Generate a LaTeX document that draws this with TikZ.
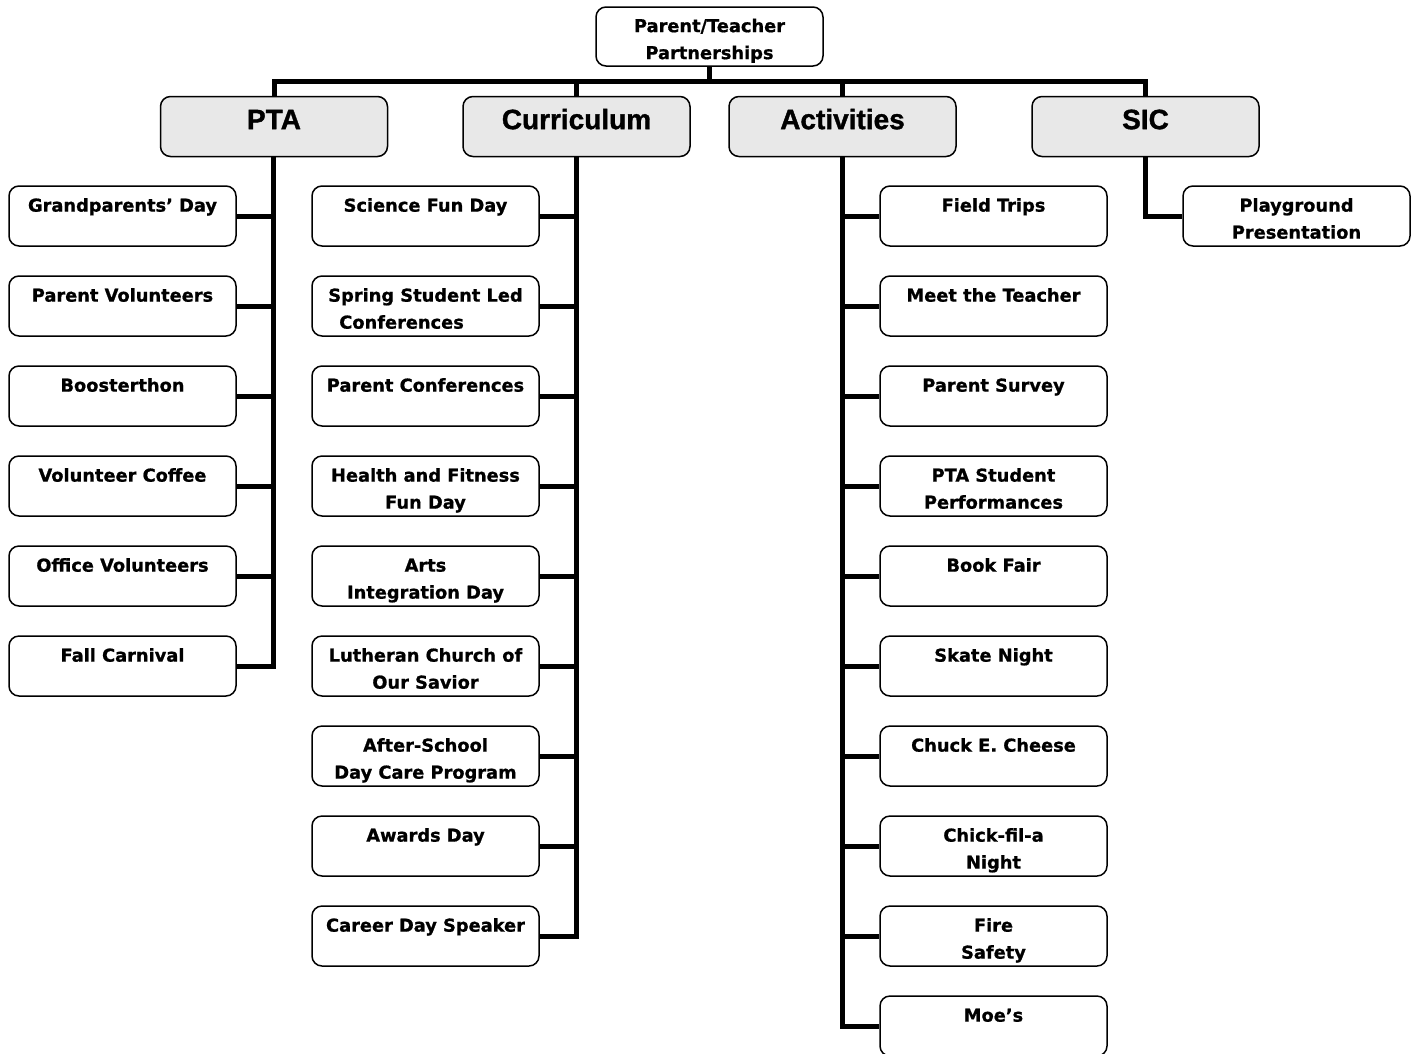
\documentclass[tikz,border=0pt]{standalone}
\usepackage{fontspec}
\newfontfamily\itemfont{DejaVu Sans}[BoldFont={DejaVu Sans Bold},BoldFeatures={FakeBold=0.9}]
\newfontfamily\headfont{Liberation Sans}[BoldFeatures={FakeBold=1.2}]
\begin{document}
\begin{tikzpicture}[x=1pt,y=-1pt,
  box/.style={draw=black,line width=1.5pt,rounded corners=10pt,fill=white,
    minimum width=227pt,minimum height=60pt,inner sep=0pt},
  headbox/.style={box,fill=gray!18},
  txt/.style={anchor=north,inner sep=0pt,align=center,
    font=\itemfont\bfseries\fontsize{17.8}{27}\selectfont},
  htxt/.style={anchor=north,inner sep=0pt,align=center,
    font=\headfont\bfseries\fontsize{28}{34}\selectfont},
  conn/.style={draw=black,line width=5pt}]
\useasboundingbox (0,0) rectangle (1421,1053);
\newcommand\itembox[4]{%
  \node[box] (#1) at (#2,#3+30) {};
  \node[txt] (#1-t) at ([yshift=-7.3pt]#1.north) {\strut #4};}
\newcommand\headbox[4]{%
  \node[headbox] (#1) at (#2,#3+29.5) {};
  \node[htxt] (#1-t) at ([yshift=-9.4pt]#1.north) {\strut #4};}
% root
\node[box,minimum height=59pt] (root) at (709.5,36.5) {};
\node[txt] (root-t) at ([yshift=-6.8pt]root.north) {\strut Parent/Teacher\\Partnerships};
% headers
\headbox{pta}{274}{97}{PTA}
\headbox{cur}{576.5}{97}{Curriculum}
\headbox{act}{842.5}{97}{Activities}
\headbox{sic}{1145.5}{97}{SIC}
% PTA items
\itembox{p1}{122.5}{186}{Grandparents’ Day}
\itembox{p2}{122.5}{276}{Parent Volunteers}
\itembox{p3}{122.5}{366}{Boosterthon}
\itembox{p4}{122.5}{456}{Volunteer Coffee}
\itembox{p5}{122.5}{546}{Office Volunteers}
\itembox{p6}{122.5}{636}{Fall Carnival}
% Curriculum items
\itembox{c1}{425.5}{186}{Science Fun Day}
\node[box] (c2) at (425.5,306) {};
\node[txt,align=left] (c2-t) at ([yshift=-7.3pt]c2.north) {\strut Spring Student Led\\\hspace*{11pt}Conferences};
\itembox{c3}{425.5}{366}{Parent Conferences}
\itembox{c4}{425.5}{456}{Health and Fitness\\Fun Day}
\itembox{c5}{425.5}{546}{Arts\\Integration Day}
\itembox{c6}{425.5}{636}{Lutheran Church of\\Our Savior}
\itembox{c7}{425.5}{726}{After-School\\Day Care Program}
\itembox{c8}{425.5}{816}{Awards Day}
\itembox{c9}{425.5}{906}{Career Day Speaker}
% Activities items
\itembox{a1}{993.5}{186}{Field Trips}
\itembox{a2}{993.5}{276}{Meet the Teacher}
\itembox{a3}{993.5}{366}{Parent Survey}
\itembox{a4}{993.5}{456}{PTA Student\\Performances}
\itembox{a5}{993.5}{546}{Book Fair}
\itembox{a6}{993.5}{636}{Skate Night}
\itembox{a7}{993.5}{726}{Chuck E. Cheese}
\itembox{a8}{993.5}{816}{Chick-fil-a\\Night}
\itembox{a9}{993.5}{906}{Fire\\Safety}
\itembox{a10}{993.5}{996}{Moe’s}
% SIC item
\itembox{s1}{1296.5}{186}{Playground\\Presentation}
% connectors
\foreach \h in {pta,cur,act,sic}
  \draw[conn] (root.south) -- ++(0,14.5) -| (\h.north);
\foreach \i in {p1,p2,p3,p4,p5,p6}
  \draw[conn] ([xshift=-0.5pt]pta.south) |- (\i.east);
\foreach \i in {c1,c2,c3,c4,c5,c6,c7,c8,c9}
  \draw[conn] (cur.south) |- (\i.east);
\foreach \i in {a1,a2,a3,a4,a5,a6,a7,a8,a9,a10}
  \draw[conn] (act.south) |- (\i.west);
\draw[conn] (sic.south) |- (s1.west);
\end{tikzpicture}
\end{document}
